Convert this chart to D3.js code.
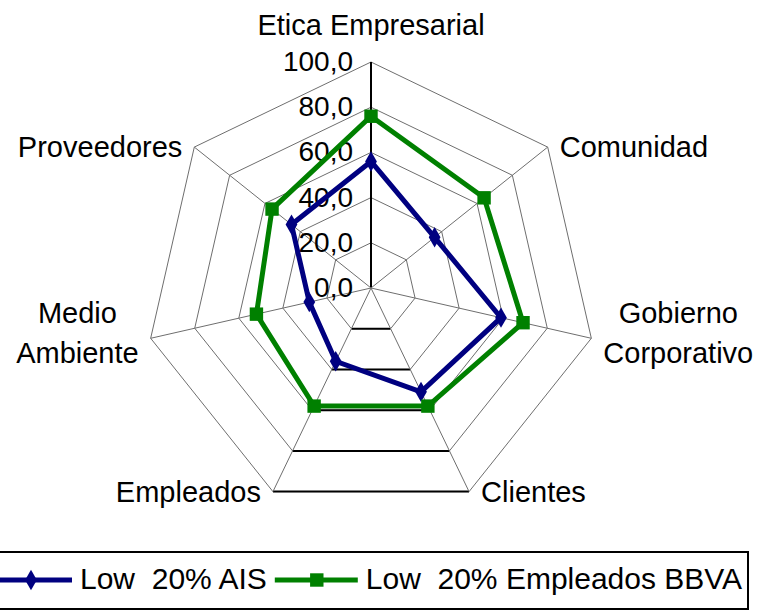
<!DOCTYPE html>
<html>
<head>
<meta charset="utf-8">
<script src="https://cdn.jsdelivr.net/npm/d3@7"></script>
<style>
  body { margin: 0; background: #fff; }
  svg { display: block; font-family: "Liberation Sans", Arial, sans-serif; }
</style>
</head>
<body>
<div id="chart"></div>
<script>
// axis labels, one entry per line of text
const categories = [
  ["Etica Empresarial"],
  ["Comunidad"],
  ["Gobierno", "Corporativo"],
  ["Clientes"],
  ["Empleados"],
  ["Medio", "Ambiente"],
  ["Proveedores"]
];
const aisValues = [56, 36, 59, 51, 36, 28, 45];
const bbvaValues = [76, 64, 69, 58, 58, 52, 56];
const seriesNames = ["Low  20% AIS", "Low  20% Empleados BBVA"];
const tickValues = [0, 20, 40, 60, 80, 100];
const tickLabels = ["0,0", "20,0", "40,0", "60,0", "80,0", "100,0"];

const width = 758, height = 611;
const cx = 371, cy = 288;

const svg = d3.select("#chart").append("svg")
    .attr("width", width)
    .attr("height", height);

const r = d3.scaleLinear().domain([0, 100]).range([0, 226]);
const n = categories.length;
const angle = i => i * 2 * Math.PI / n;
const px = (i, v) => cx + r(v) * Math.sin(angle(i));
const py = (i, v) => cy - r(v) * Math.cos(angle(i));

const g = svg.append("g");

// rings
tickValues.filter(t => t > 0).forEach(t => {
    const pts = d3.range(n).map(i => [px(i, t), py(i, t)]);
    g.append("path")
        .attr("d", d3.line()(pts) + "Z")
        .attr("fill", "none")
        .attr("stroke", "#6e6e6e")
        .attr("stroke-width", 1);
    // the Clientes-Empleados segment renders black in the original
    g.append("line")
        .attr("x1", px(3, t)).attr("y1", py(3, t))
        .attr("x2", px(4, t)).attr("y2", py(4, t))
        .attr("stroke", "#000")
        .attr("stroke-width", 2);
});

// spokes
d3.range(n).forEach(i => {
    g.append("line")
        .attr("x1", cx).attr("y1", cy)
        .attr("x2", px(i, 100)).attr("y2", py(i, 100))
        .attr("stroke", i === 0 ? "#000" : "#6e6e6e")
        .attr("stroke-width", i === 0 ? 2 : 1);
});

// value labels
g.selectAll(".tick")
    .data(tickValues)
    .enter().append("text")
    .attr("x", cx - 18)
    .attr("y", d => cy - r(d) + 9)
    .attr("text-anchor", "end")
    .style("font-size", "28px")
    .text((d, i) => tickLabels[i]);

// category labels
categories.forEach((lines, i) => {
    const vx = px(i, 100), vy = py(i, 100);
    const s = Math.sin(angle(i));
    const t = g.append("text")
        .attr("text-anchor", "middle")
        .style("font-size", "29px");
    lines.forEach((l, k) => {
        t.append("tspan").attr("x", 0).attr("y", k * 40).text(l);
    });
    const w = t.node().getBBox().width;
    let x = vx, y;
    if (s > 0.1) x = vx + 12 + w / 2;
    else if (s < -0.1) x = vx - 12 - w / 2;
    if (i === 0) y = vy - 27;
    else y = vy + 10 - (lines.length - 1) * 25;
    t.attr("transform", "translate(" + x + "," + y + ")");
});

// series
const series = [
    { name: seriesNames[0], values: aisValues, color: "#000080", marker: d3.symbolDiamond, size: 120 },
    { name: seriesNames[1], values: bbvaValues, color: "#008000", marker: d3.symbolSquare, size: 180 }
];

series.forEach(s => {
    const pts = s.values.map((v, i) => [px(i, v), py(i, v)]);
    g.append("path")
        .attr("d", d3.line()(pts) + "Z")
        .attr("fill", "none")
        .attr("stroke", s.color)
        .attr("stroke-width", 5)
        .attr("stroke-linejoin", "miter");
    g.selectAll(null)
        .data(pts)
        .enter().append("path")
        .attr("transform", d => "translate(" + d[0] + "," + d[1] + ")")
        .attr("d", d3.symbol().type(s.marker).size(s.size))
        .attr("fill", s.color);
});

// legend
const legend = svg.append("g");
legend.append("rect")
    .attr("x", -5).attr("y", 552)
    .attr("width", 753).attr("height", 57)
    .attr("fill", "none")
    .attr("stroke", "#000")
    .attr("stroke-width", 2);

let lx = -11;
const ly = 580;
series.forEach(s => {
    legend.append("line")
        .attr("x1", lx).attr("x2", lx + 83)
        .attr("y1", ly).attr("y2", ly)
        .attr("stroke", s.color)
        .attr("stroke-width", 5);
    legend.append("path")
        .attr("transform", "translate(" + (lx + 42) + "," + ly + ")")
        .attr("d", d3.symbol().type(s.marker).size(s.size))
        .attr("fill", s.color);
    const t = legend.append("text")
        .attr("x", lx + 91)
        .attr("y", ly + 9)
        .style("font-size", "30px")
        .style("white-space", "pre")
        .text(s.name);
    lx = lx + 91 + t.node().getComputedTextLength() + 8;
});
</script>
</body>
</html>
